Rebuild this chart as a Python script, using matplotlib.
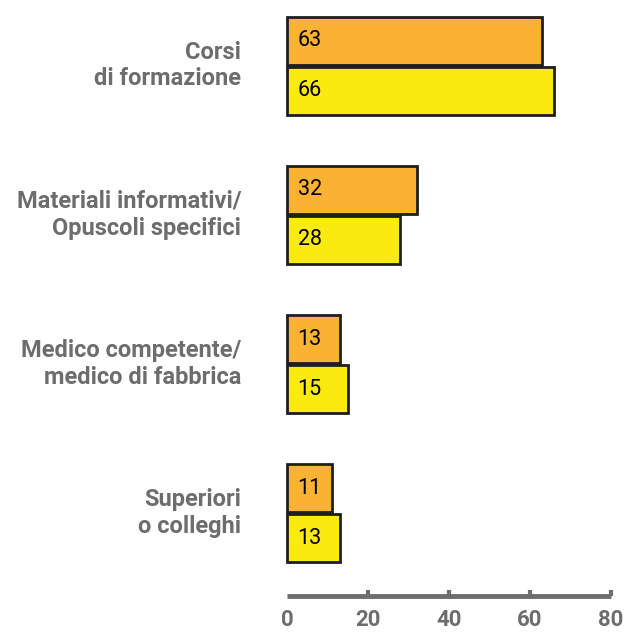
import matplotlib
matplotlib.use("Agg")
import matplotlib.pyplot as plt

categories = ["Corsi\ndi formazione", "Materiali informativi/\nOpuscoli specifici",
              "Medico competente/\nmedico di fabbrica", "Superiori\no colleghi"]
series_a = [63, 32, 13, 11]   # orange
series_b = [66, 28, 15, 13]   # yellow
xticks = [0, 20, 40, 60, 80]

GRAY = "#6d6d6d"
ORANGE = "#F9B233"
YELLOW = "#FAEA10"
EDGE = "#1e1e1e"

plt.rcParams['font.family'] = ['Roboto', 'DejaVu Sans']

fig = plt.figure(figsize=(6.3, 6.33), dpi=100)
ax = fig.add_axes([287/630, (633-596)/633, (611-287)/630, 596/633])

h = 0.325
pos = list(range(len(categories)))
for i in pos:
    ax.barh(i - h/2, series_a[i], height=h, color=ORANGE, edgecolor=EDGE, linewidth=2.0, clip_on=False)
    ax.barh(i + h/2 + 0.01, series_b[i], height=h, color=YELLOW, edgecolor=EDGE, linewidth=2.0, clip_on=False)
    ax.text(2.6, i - h/2, str(series_a[i]), va='center', ha='left', fontsize=15.5, color='black')
    ax.text(2.6, i + h/2 + 0.01, str(series_b[i]), va='center', ha='left', fontsize=15.5, color='black')

ax.set_xlim(0, 80)
ax.set_ylim(3.56, -0.436)

ax.set_yticks([p - 0.025 for p in pos])
ax.set_yticklabels(categories, fontsize=17, fontweight='bold', color=GRAY, linespacing=1.2)
ax.tick_params(axis='y', length=0, pad=33)

ax.set_xticks(xticks)
ax.set_xticklabels([str(t) for t in xticks], fontsize=16, fontweight='bold', color=GRAY)
ax.tick_params(axis='x', direction='in', length=4, width=3, color=GRAY, pad=9)
ax.xaxis.get_major_ticks()[0].tick1line.set_visible(False)

for s in ['top', 'right', 'left']:
    ax.spines[s].set_visible(False)
ax.spines['bottom'].set_color(GRAY)
ax.spines['bottom'].set_linewidth(3.5)
ax.spines['bottom'].set_capstyle('butt')

fig.savefig("out.png", dpi=100)
